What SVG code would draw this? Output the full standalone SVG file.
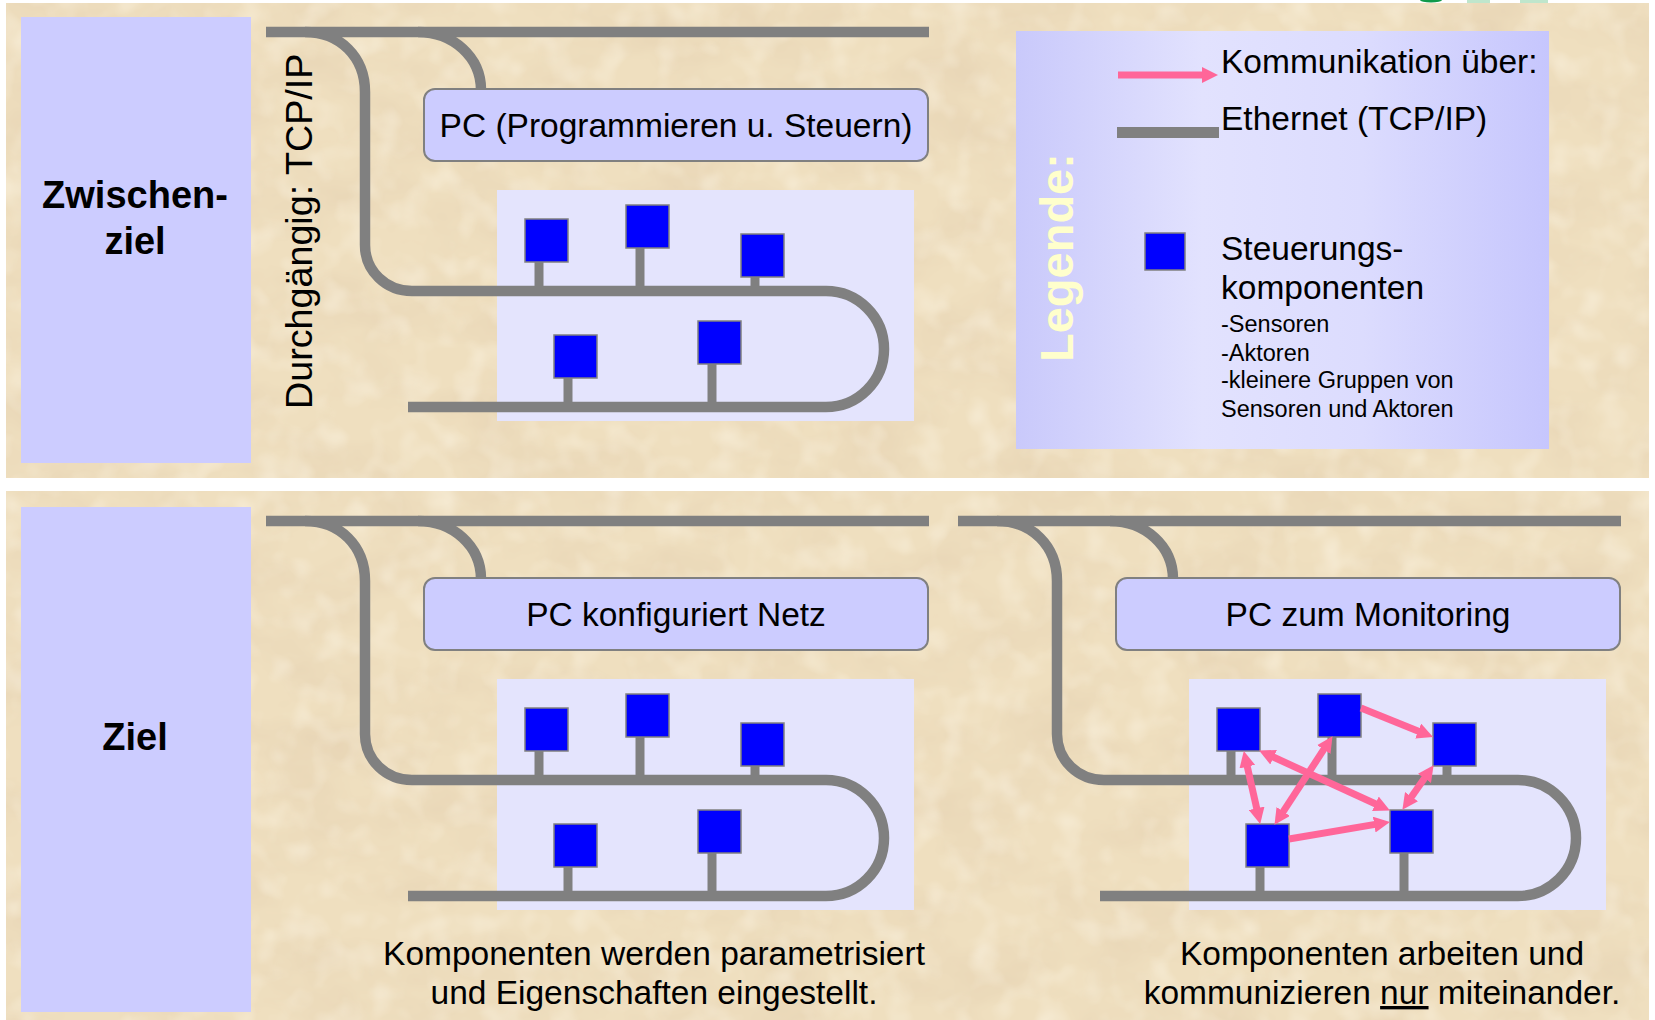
<svg xmlns="http://www.w3.org/2000/svg" width="1655" height="1020" viewBox="0 0 1655 1020">
<defs>
<style>
.bus{fill:none;stroke:#808080;stroke-width:10.5}
.stem{stroke:#808080;stroke-width:9}
.comp{fill:#0000ff;stroke:#808080;stroke-width:1.5}
.pcbox{fill:#ccccff;stroke:#808080;stroke-width:2}
.goal{fill:#ccccff}
.area{fill:#e4e4fd}
.t{font-family:"Liberation Sans",Arial,sans-serif;fill:#000}
.big{font-size:33.5px}
.small{font-size:23.5px}
.arr{stroke:#ff6699;stroke-width:7;fill:none;marker-end:url(#ah)}
.arr2{stroke:#ff6699;stroke-width:7;fill:none;marker-end:url(#ah);marker-start:url(#ah)}
</style>
<marker id="ah" markerUnits="userSpaceOnUse" markerWidth="16" markerHeight="16" viewBox="0 0 16 16" refX="1" refY="8" orient="auto-start-reverse">
<path d="M0,0 L16,8 L0,16 z" fill="#ff6699"/>
</marker>
<linearGradient id="lg" x1="0" y1="0" x2="1" y2="0">
<stop offset="0" stop-color="#c9c9fb"/>
<stop offset="0.35" stop-color="#e2e2fe"/>
<stop offset="0.65" stop-color="#dcdcfe"/>
<stop offset="1" stop-color="#c6c6fd"/>
</linearGradient>
<filter id="parch" x="0" y="0" width="100%" height="100%">
<feTurbulence type="fractalNoise" baseFrequency="0.011 0.018" numOctaves="4" seed="7"/>
<feColorMatrix type="matrix" values="0 0 0 0 0.80  0 0 0 0 0.66  0 0 0 0 0.46  1.6 0 0 0 -0.62"/>
</filter>
<filter id="grain" x="0" y="0" width="100%" height="100%">
<feTurbulence type="fractalNoise" baseFrequency="0.035" numOctaves="2" seed="3"/>
<feColorMatrix type="matrix" values="0 0 0 0 1  0 0 0 0 0.96  0 0 0 0 0.86  0.9 0 0 0 -0.42"/>
</filter>
</defs>

<rect width="1655" height="1020" fill="#ffffff"/>
<g id="background">
<rect x="6" y="3" width="1643" height="475" fill="#efdfbf"/>
<rect x="6" y="3" width="1643" height="475" fill="#000" filter="url(#parch)"/>
<rect x="6" y="3" width="1643" height="475" fill="#000" filter="url(#grain)"/>
<rect x="6" y="491" width="1643" height="529" fill="#efdfbf"/>
<rect x="6" y="491" width="1643" height="529" fill="#000" filter="url(#parch)"/>
<rect x="6" y="491" width="1643" height="529" fill="#000" filter="url(#grain)"/>
</g>
<g id="logo-fragment">
<ellipse cx="1431" cy="0" rx="11" ry="2.5" fill="#109a4a"/>
<rect x="1467" y="0" width="23" height="3" fill="#bfe6cc"/>
<rect x="1520" y="0" width="28" height="3" fill="#bfe6cc"/>
</g>

<g id="zwischenziel">
<rect class="goal" x="21" y="17" width="230" height="446"/>
<text class="t" x="135" y="208" font-size="38" font-weight="bold" text-anchor="middle">Zwischen-</text>
<text class="t" x="135" y="254" font-size="38" font-weight="bold" text-anchor="middle">ziel</text>
</g>
<g id="ziel">
<rect class="goal" x="21" y="507" width="230" height="505"/>
<text class="t" x="135" y="750" font-size="38" font-weight="bold" text-anchor="middle">Ziel</text>
</g>

<g id="durchgaengig">
<text class="t" transform="translate(312,409) rotate(-90)" font-size="37.7">Durchgängig: TCP/IP</text>
</g>

<g id="legend">
<rect x="1016" y="31" width="533" height="418" fill="url(#lg)"/>
<text transform="translate(1073,362) rotate(-90)" font-family="Liberation Sans, Arial, sans-serif" font-size="47" font-weight="bold" fill="#ffffcc">Legende:</text>
<line class="arr" x1="1118" y1="75" x2="1203" y2="75"/>
<text class="t big" x="1221" y="73">Kommunikation über:</text>
<line x1="1117" y1="132.5" x2="1219" y2="132.5" stroke="#808080" stroke-width="11"/>
<text class="t big" x="1221" y="130">Ethernet (TCP/IP)</text>
<rect class="comp" x="1145" y="233" width="40" height="37"/>
<text class="t big" x="1221" y="260">Steuerungs-</text>
<text class="t big" x="1221" y="299">komponenten</text>
<text class="t small" x="1221" y="332">-Sensoren</text>
<text class="t small" x="1221" y="361">-Aktoren</text>
<text class="t small" x="1221" y="388">-kleinere Gruppen von</text>
<text class="t small" x="1221" y="417">Sensoren und Aktoren</text>
</g>

<g id="area-top"><rect class="area" x="497" y="190" width="417" height="231"/></g>
<g id="area-bottom-left"><rect class="area" x="497" y="679" width="417" height="231"/></g>
<g id="area-bottom-right"><rect class="area" x="1189" y="679" width="417" height="231"/></g>

<g id="connectors">
<g id="net-top">
<path class="bus" d="M266 32 H929"/>
<path class="bus" d="M305 32 C340 32 365 57 365 92 V245 C365 271 386 291 412 291 H826 A58 58 0 0 1 826 407 H408"/>
<path class="bus" d="M418 32 C453 32 481 57 481 90"/>
<line class="stem" x1="539" y1="260" x2="539" y2="291"/>
<line class="stem" x1="640" y1="246" x2="640" y2="291"/>
<line class="stem" x1="755" y1="275" x2="755" y2="291"/>
<line class="stem" x1="568" y1="376" x2="568" y2="407"/>
<line class="stem" x1="712" y1="362" x2="712" y2="407"/>
</g>
<g id="net-bottom-left" transform="translate(0,489)">
<path class="bus" d="M266 32 H929"/>
<path class="bus" d="M305 32 C340 32 365 57 365 92 V245 C365 271 386 291 412 291 H826 A58 58 0 0 1 826 407 H408"/>
<path class="bus" d="M418 32 C453 32 481 57 481 90"/>
<line class="stem" x1="539" y1="260" x2="539" y2="291"/>
<line class="stem" x1="640" y1="246" x2="640" y2="291"/>
<line class="stem" x1="755" y1="275" x2="755" y2="291"/>
<line class="stem" x1="568" y1="376" x2="568" y2="407"/>
<line class="stem" x1="712" y1="362" x2="712" y2="407"/>
</g>
<g id="net-bottom-right" transform="translate(692,489)">
<path class="bus" d="M266 32 H929"/>
<path class="bus" d="M305 32 C340 32 365 57 365 92 V245 C365 271 386 291 412 291 H826 A58 58 0 0 1 826 407 H408"/>
<path class="bus" d="M418 32 C453 32 481 57 481 90"/>
<line class="stem" x1="539" y1="260" x2="539" y2="291"/>
<line class="stem" x1="640" y1="246" x2="640" y2="291"/>
<line class="stem" x1="755" y1="275" x2="755" y2="291"/>
<line class="stem" x1="568" y1="376" x2="568" y2="407"/>
<line class="stem" x1="712" y1="362" x2="712" y2="407"/>
</g>
</g>

<g id="pc-top">
<rect class="pcbox" x="424" y="89" width="504" height="72" rx="11"/>
<text class="t big" x="676" y="137" text-anchor="middle">PC (Programmieren u. Steuern)</text>
</g>
<g id="pc-bottom-left">
<rect class="pcbox" x="424" y="578" width="504" height="72" rx="11"/>
<text class="t big" x="676" y="626" text-anchor="middle">PC konfiguriert Netz</text>
</g>
<g id="pc-bottom-right">
<rect class="pcbox" x="1116" y="578" width="504" height="72" rx="11"/>
<text class="t big" x="1368" y="626" text-anchor="middle">PC zum Monitoring</text>
</g>

<g id="components-top">
<rect id="t1" class="comp" x="525" y="219" width="43" height="43"/>
<rect id="t2" class="comp" x="626" y="205" width="43" height="43"/>
<rect id="t3" class="comp" x="741" y="234" width="43" height="43"/>
<rect id="t4" class="comp" x="554" y="335" width="43" height="43"/>
<rect id="t5" class="comp" x="698" y="321" width="43" height="43"/>
</g>
<g id="components-bottom-left" transform="translate(0,489)">
<rect id="l1" class="comp" x="525" y="219" width="43" height="43"/>
<rect id="l2" class="comp" x="626" y="205" width="43" height="43"/>
<rect id="l3" class="comp" x="741" y="234" width="43" height="43"/>
<rect id="l4" class="comp" x="554" y="335" width="43" height="43"/>
<rect id="l5" class="comp" x="698" y="321" width="43" height="43"/>
</g>
<g id="components-bottom-right" transform="translate(692,489)">
<rect id="rA" class="comp" x="525" y="219" width="43" height="43"/>
<rect id="rB" class="comp" x="626" y="205" width="43" height="43"/>
<rect id="rC" class="comp" x="741" y="234" width="43" height="43"/>
<rect id="rD" class="comp" x="554" y="335" width="43" height="43"/>
<rect id="rE" class="comp" x="698" y="321" width="43" height="43"/>
</g>

<g id="communication-arrows">
<line class="arr" x1="1361" y1="708" x2="1419.1" y2="731.4"/>
<line class="arr2" x1="1247.1" y1="765.7" x2="1256.9" y2="809.3"/>
<line class="arr2" x1="1324.3" y1="748.7" x2="1282.7" y2="812.3"/>
<line class="arr2" x1="1272.7" y1="756.8" x2="1376.3" y2="804.2"/>
<line class="arr2" x1="1425" y1="777.5" x2="1411" y2="797.5"/>
<line class="arr" x1="1289" y1="839" x2="1375.2" y2="824.4"/>
</g>

<g id="caption-left">
<text class="t big" x="654" y="965" text-anchor="middle">Komponenten werden parametrisiert</text>
<text class="t big" x="654" y="1004" text-anchor="middle">und Eigenschaften eingestellt.</text>
</g>
<g id="caption-right">
<text class="t big" x="1382" y="965" text-anchor="middle">Komponenten arbeiten und</text>
<text class="t big" x="1382" y="1004" text-anchor="middle">kommunizieren <tspan text-decoration="underline">nur</tspan> miteinander.</text>
</g>
</svg>
